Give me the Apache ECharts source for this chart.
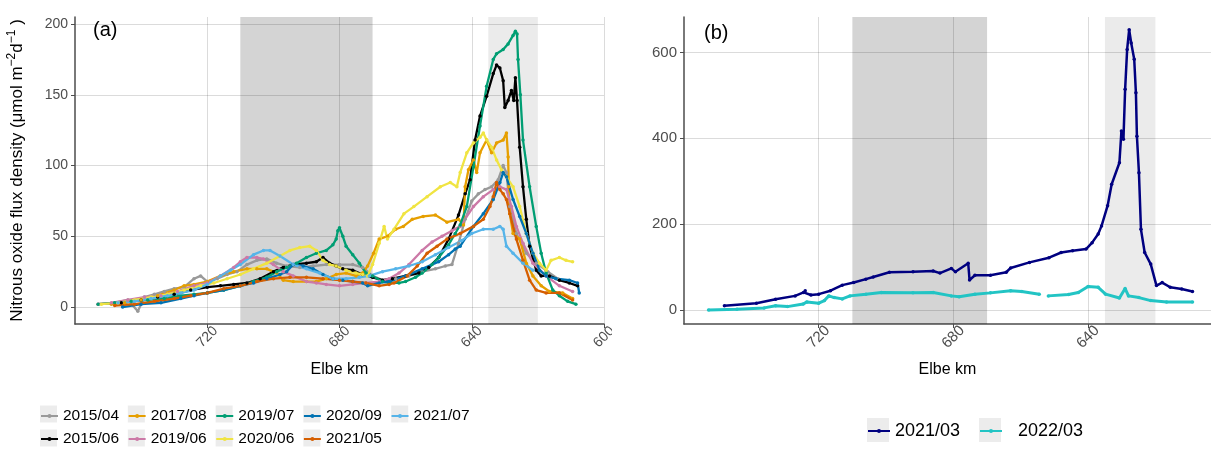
<!DOCTYPE html>
<html><head><meta charset="utf-8">
<script src="https://cdn.jsdelivr.net/npm/echarts@6/dist/echarts.min.js"></script>
<style>html,body{margin:0;padding:0;background:#fff}#c{width:1211px;height:452px}</style>
</head><body><div id="c"></div>
<script>
// ---------- tick labels ----------
const xTicksA = [720, 680, 640, 600];
const yTicksA = [0, 50, 100, 150, 200];
const xTicksB = [720, 680, 640];
const yTicksB = [0, 200, 400, 600];
// shaded reaches (Elbe km)
const shadeDark = [710, 670];
const shadeLight = [635, 620];

// ---------- panel (a) series: [Elbe km, flux] ----------
const namesA = ['2015/04','2015/06','2017/08','2019/06','2019/07','2020/06','2020/09','2021/05','2021/07'];
const colorsA = ['#999999','#000000','#E69F00','#CC79A7','#009E73','#F0E442','#0072B2','#D55E00','#56B4E9'];

const d2015_04 = [[753,2],[748,3],[744,5],[741,-3],[739,7],[736,9],[733,11],[730,13],[727,14],[724,20],[722,22],[720,18],[717,20],[714,23],[711,25],[708,30],[705,33],[702,34],[699,31],[696,29],[692,28],[688,29],[684,30],[680,30],[676,30],[673,28],[670,22],[667,19],[663,20],[659,22],[655,25],[651,27],[648,29],[646,30],[644,45],[642,62],[640,75],[638,80],[636,83],[634,85],[632,90],[630.5,100],[629.5,95],[628.5,71],[626.5,52],[623.5,38],[620.5,31],[617,25],[614,20]];
const d2015_06 = [[746,3],[740,5],[735,7],[730,9],[725,12],[720,14],[716,15],[712,16],[708,17],[704,20],[700,25],[697,28],[694,30],[690,31],[687,32],[685,35],[683,31],[681,29],[679,27],[676,26],[673,23],[670,21],[667,19],[664,20],[660,22],[656,24],[653,28],[650,35],[647,48],[644,65],[642,80],[640.5,90],[639,118],[637.5,135],[635.5,149],[633.5,165],[632.5,171],[631.5,169],[630.5,160],[630,141],[629,146],[628,153],[627.3,146],[626.8,162],[626.3,146],[625.5,113],[624.5,85],[623.5,62],[622.5,43],[620.5,26],[619,22],[616.5,22],[613.5,19],[610.5,17],[608,15]];
const d2017_08 = [[749,2],[745,3],[740,5],[735,8],[730,12],[727,15],[724,16],[720,18],[716,22],[712,25],[708,27],[705,27],[702,27],[699,24],[697,19],[694,18],[690,18],[687,18],[684,20],[681,23],[678,24],[675,22],[673,24],[671.5,29],[669.7,38],[668,48],[665.5,50],[663,55],[660.7,57],[658,62],[654.7,64],[651,65],[647.5,60],[644,62],[642.5,58],[642,85],[641,97],[639.5,104],[638.5,95],[637.5,109],[635.5,118],[634,109],[632.5,116],[630.5,118],[629.5,123],[629,106],[628.8,85],[628.5,66],[627.5,52],[625.5,48],[623.5,31],[621.5,22],[619,15],[616.5,11],[612.5,10],[609.5,6]];
const d2019_06 = [[753,2],[749,3],[744,5],[739,7],[734,8],[729,11],[724,15],[720,17],[716,22],[712,28],[710,32],[708,35],[705,35],[703,34],[700,30],[697,25],[694,22],[690,18],[687,17],[684,16],[680,15],[676,16],[672,17],[668,18],[665,20],[662,24],[659,30],[655,40],[652,46],[649,50],[646,54],[643.5,57],[639.5,71],[636.5,78],[633.5,83],[631.5,85],[629.5,83],[628,71],[626.5,57],[624.5,45],[621.5,31],[617.5,22],[613.5,15],[609.5,11]];
const d2019_07 = [[753,2],[748,3],[743,4],[738,5],[733,6],[728,8],[724,9],[720,10],[715,12],[710,15],[706,18],[702,21],[699,25],[696,28],[693,31],[690,35],[687,38],[684,40],[682,44],[681,48],[680.5,54],[680,56],[679,50],[678,43],[676,37],[674,31],[672,24],[670,22],[667,18],[665,17],[662,17],[660,18],[657,21],[655,24],[652,30],[650,35],[647,44],[645,52],[643.5,58],[641.5,71],[639.5,99],[637.5,128],[635.5,156],[633.5,175],[632.5,179],[630.5,182],[629,186],[627.5,192],[626.8,195],[626.3,193],[626,175],[625.3,150],[624.5,118],[622.5,85],[620.5,57],[619,38],[617.5,24],[615.5,12],[613.5,8],[611,4],[608.5,2]];
const d2020_06 = [[752,2],[747,3],[742,5],[737,7],[732,9],[727,12],[722,15],[718,17],[714,20],[710,23],[706,27],[702,31],[698,36],[695,40],[692,42],[689,43],[687,40],[685,33],[683,30],[681,29],[678,26],[675,24],[673,23],[671.5,22],[670,30],[668,45],[666.5,57],[665.5,48],[663.5,55],[660.5,66],[657.5,71],[653.5,78],[649.5,85],[646.5,88],[644.5,85],[643.5,95],[641.5,109],[639.5,116],[637.5,120],[636.5,123],[635.5,118],[634,113],[632.5,104],[631,97],[629.5,92],[627.5,85],[625.5,71],[623.5,52],[621.5,38],[619.5,31],[617.5,26],[616,33],[613.5,35],[611.5,33],[609.5,32]];
const d2020_09 = [[745.6,0],[740,2],[734,3],[728,6],[724,8],[720,10],[715,12],[710,15],[706,17],[702,20],[698,23],[696,25],[694,30],[691,29],[688,27],[685,23],[682,20],[679,19],[676,18],[673,17],[671.5,15],[668,17],[665,18],[660,22],[655,27],[650,32],[647,37],[645,41],[643.5,43],[639.5,57],[636.5,66],[633.5,76],[631.5,88],[630.5,95],[629.5,92],[627.5,76],[625.5,64],[623.5,52],[621.5,38],[619.5,26],[617.5,22],[614.5,20],[610.5,19],[608,17],[607.5,10]];
const d2021_05 = [[748,1],[742,2],[736,4],[730,6],[725,8],[720,10],[715,13],[710,15],[705,18],[700,20],[695,21],[690,21],[685,20],[680,19],[676,18],[672,17],[668,15],[665,16],[663.5,17],[659.5,22],[656.5,29],[653.5,38],[650.5,43],[647.5,48],[643.5,52],[639.5,57],[636.5,62],[634.5,71],[633.5,78],[632.5,88],[631.5,83],[630.5,80],[629.5,76],[628.5,66],[626.5,48],[624.5,33],[622.5,19],[620.5,12],[617.5,10],[613.5,10],[609.5,5]];
const d2021_07 = [[747,3],[742,4],[737,6],[732,8],[728,10],[724,12],[720,16],[716,22],[713,26],[710,30],[706,37],[703,40],[701,40],[698,36],[694,30],[690,27],[686,24],[682,20],[678,20],[674,21],[671,22],[667,25],[663,27],[659,29],[655,32],[651,37],[647,42],[643,47],[640,52],[636.5,55],[633.5,55],[631.5,57],[630.5,55],[629.5,43],[627.5,38],[624.5,31],[621.5,26]];
const dataA = [d2015_04, d2015_06, d2017_08, d2019_06, d2019_07, d2020_06, d2020_09, d2021_05, d2021_07];

// ---------- panel (b) series ----------
const namesB = ['2021/03','2022/03'];
const colorsB = ['#000080','#22C4C4'];
const d2021_03 = [[748,10],[738.5,16],[732.8,25],[727,33],[724.5,41],[724,45],[722.3,35],[720,37],[716.5,45],[713,58],[709.6,64],[706,72],[703.8,77],[699,88],[692,89],[686,91],[684,86],[680.6,97],[679.4,89],[675.6,109],[675.2,70],[673.6,81],[669,81],[664.3,88],[663,98],[657.4,111],[651.6,122],[648,134],[644.6,138],[640.6,142],[638.8,157],[637,177],[636,196],[634.2,243],[633,293],[630.7,343],[630.1,417],[629.5,398],[629,514],[628.4,607],[627.8,653],[627.2,622],[626.3,584],[625.8,506],[625.5,405],[624.9,320],[624.3,188],[623.2,134],[621.4,107],[619.7,57],[618,64],[615.6,53],[612.2,49],[609,43]];
const d2022_03 = [[752.7,0],[744.3,2],[736.2,5],[732.8,10],[729.3,8],[724.6,14],[723.5,19],[720,16],[718.3,22],[717,33],[715.4,29],[713,26],[710.7,33],[706,37],[701.4,41],[692,40],[686,41],[680.6,33],[678.3,31],[673.6,37],[669,40],[663,45],[659.7,43],[654.5,37],[653,null],[651.8,33],[645.8,36],[642.9,41],[640,55],[637,53],[634.8,37],[630.7,28],[629,50],[628,33],[624.9,29],[621.4,22],[616.7,19],[609,19]];
const dataB = [d2021_03, d2022_03];

const FONT = "'Liberation Sans', Arial, Helvetica, sans-serif";
const AXC = '#4d4d4d';
const GRIDC = 'rgba(0,0,0,0.14)';

function lineSeries(name, color, data, idx, w) {
  return {
    type: 'line', name: name, xAxisIndex: idx, yAxisIndex: idx,
    data: data.map(p => [p[0], p[1] === null ? '-' : p[1]]),
    showSymbol: true, showAllSymbol: true, symbol: 'circle', symbolSize: 3.5,
    lineStyle: { width: w, color: color }, itemStyle: { color: color },
    connectNulls: false, z: 3, silent: true
  };
}
function shadeSeries(idx) {
  return {
    type: 'line', name: 'shade' + idx, xAxisIndex: idx, yAxisIndex: idx, data: [], z: 1, silent: true,
    markArea: { silent: true, data: [
      [{ xAxis: shadeDark[0], itemStyle: { color: 'rgba(0,0,0,0.17)' } }, { xAxis: shadeDark[1] }],
      [{ xAxis: shadeLight[0], itemStyle: { color: 'rgba(0,0,0,0.08)' } }, { xAxis: shadeLight[1] }]
    ] }
  };
}
function xAxis(idx, ticks, fs, min) {
  return {
    type: 'value', gridIndex: idx, inverse: true, min: min, max: 760,
    name: 'Elbe km', nameLocation: 'middle', nameGap: 38,
    nameTextStyle: { fontFamily: FONT, fontSize: 16, color: '#000' },
    axisLine: { show: true, onZero: false, lineStyle: { color: AXC, width: 1.5 } },
    axisTick: { show: true, length: 4, customValues: ticks, lineStyle: { color: AXC, width: 1 } },
    axisLabel: { customValues: ticks, rotate: 45, margin: 13, align: 'center', verticalAlign: 'middle',
      color: '#4d4d4d', fontFamily: FONT, fontSize: fs },
    splitLine: { show: true, lineStyle: { color: GRIDC, width: 1 } }
  };
}
function yAxis(idx, ticks, min, max, fs, name) {
  const ax = {
    type: 'value', gridIndex: idx, min: min, max: max,
    axisLine: { show: true, onZero: false, lineStyle: { color: AXC, width: 1.5 } },
    axisTick: { show: true, length: 4, customValues: ticks, lineStyle: { color: AXC, width: 1 } },
    axisLabel: { customValues: ticks, margin: 7, color: '#4d4d4d', fontFamily: FONT, fontSize: fs },
    splitLine: { show: true, lineStyle: { color: GRIDC, width: 1 } }
  };
  if (name) {
    ax.name = name; ax.nameLocation = 'middle'; ax.nameGap = 47; ax.nameRotate = 90;
    ax.nameTextStyle = { fontFamily: FONT, color: '#000', rich: {
      t: { fontFamily: FONT, fontSize: 17, lineHeight: 22, color: '#000' },
      s: { fontFamily: FONT, fontSize: 12, lineHeight: 12, verticalAlign: 'top', color: '#000' }
    } };
  }
  return ax;
}

const series = [shadeSeries(0), shadeSeries(1)];
namesA.forEach((n, i) => series.push(lineSeries(n, colorsA[i], dataA[i], 0, 2.3)));
namesB.forEach((n, i) => series.push(lineSeries(n, colorsB[i], dataB[i], 1, i === 0 ? 2.5 : 3)));

const legendBase = { orient: 'horizontal', padding: 0, itemWidth: 17, itemHeight: 5, itemGap: 8.6,
  textStyle: { fontFamily: FONT, fontSize: 15.5, color: '#000' }, selectedMode: false };
const row1 = [namesA[0], namesA[2], namesA[4], namesA[6], namesA[8]];
const row2 = [namesA[1], namesA[3], namesA[5], namesA[7]];

const graphics = [
  { type: 'text', left: 93, top: 20, z: 10, style: { text: '(a)', fontFamily: FONT, fontSize: 20, fill: '#000' } },
  { type: 'text', left: 704, top: 23, z: 10, style: { text: '(b)', fontFamily: FONT, fontSize: 20, fill: '#000' } },
  { type: 'rect', left: 612, top: 326, z: 20, shape: { width: 30, height: 34 }, style: { fill: '#fff' } }
];
// legend key backgrounds
const pitchA = 87.8;
row1.forEach((n, i) => graphics.push({ type: 'rect', left: 40 + i * pitchA, top: 405.5, z: -1, shape: { width: 17, height: 17 }, style: { fill: '#ececec' } }));
row2.forEach((n, i) => graphics.push({ type: 'rect', left: 40 + i * pitchA, top: 429.5, z: -1, shape: { width: 17, height: 17 }, style: { fill: '#ececec' } }));
graphics.push({ type: 'rect', left: 867, top: 418, z: -1, shape: { width: 22, height: 24 }, style: { fill: '#ececec' } });
graphics.push({ type: 'rect', left: 979, top: 418, z: -1, shape: { width: 22, height: 24 }, style: { fill: '#ececec' } });

const option = {
  animation: false,
  backgroundColor: '#fff',
  grid: [
    { left: 75, top: 17, width: 529, bottom: 128, containLabel: false },
    { left: 684, top: 17, right: 0, bottom: 128, containLabel: false }
  ],
  xAxis: [xAxis(0, xTicksA, 14, 600), xAxis(1, xTicksB, 15, 603.5)],
  yAxis: [
    yAxis(0, yTicksA, -12, 205, 14, '{t|Nitrous oxide flux density (μmol m}{s|−2}{t|d}{s|−1}{t| )}'),
    yAxis(1, yTicksB, -32.5, 682.5, 15, null)
  ],
  legend: [
    Object.assign({}, legendBase, { data: row1, left: 40, top: 408 }),
    Object.assign({}, legendBase, { data: row2, left: 40, top: 431 }),
    Object.assign({}, legendBase, { data: [namesB[0]], left: 867, top: 422, itemWidth: 22, textStyle: { fontFamily: FONT, fontSize: 18, color: '#000' } }),
    Object.assign({}, legendBase, { data: [namesB[1]], left: 979, top: 422, itemWidth: 22, textStyle: { fontFamily: FONT, fontSize: 18, color: '#000', padding: [0, 0, 0, 11] } })
  ],
  graphic: graphics,
  series: series
};
const chart = echarts.init(document.getElementById('c'), null, { renderer: 'canvas' });
chart.setOption(option);
</script></body></html>
